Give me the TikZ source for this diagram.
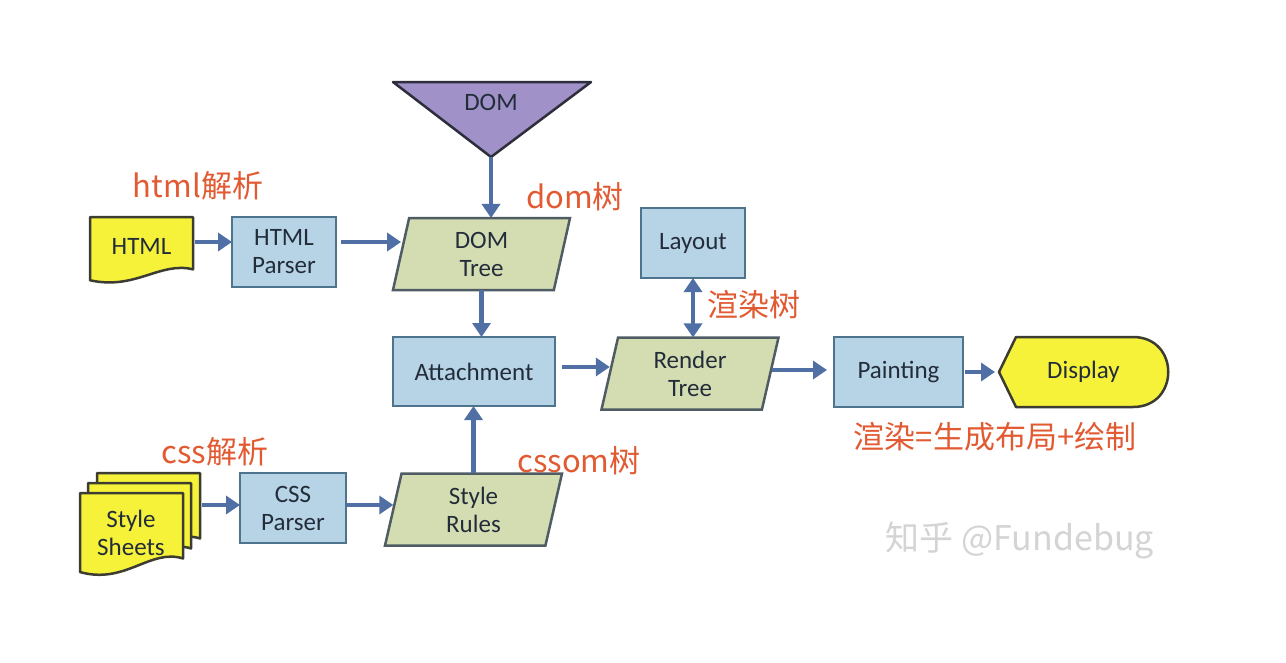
\documentclass[tikz,border=0pt]{standalone}
\usepackage{fontspec}
\setmainfont{Carlito}
\newfontfamily\cjk{Noto Sans CJK SC}
\usetikzlibrary{arrows.meta,shapes.geometric}
\definecolor{boxfill}{RGB}{183,211,230}
\definecolor{boxline}{RGB}{78,115,140}
\definecolor{parafill}{RGB}{212,221,178}
\definecolor{paraline}{RGB}{80,92,100}
\definecolor{yelfill}{RGB}{246,242,58}
\definecolor{yelline}{RGB}{60,60,50}
\definecolor{domfill}{RGB}{160,145,200}
\definecolor{domline}{RGB}{45,45,60}
\definecolor{flowc}{RGB}{80,112,165}
\definecolor{lblred}{RGB}{226,90,50}
\definecolor{txtc}{RGB}{35,45,58}
\definecolor{wmark}{RGB}{212,212,212}
% x y w h : document page with wavy bottom
\newcommand{\docpage}[4]{%
  \draw[yelshape] (#1,#2) -- ({#1+#3},#2) -- ({#1+#3},{#2+0.77*#4})
    .. controls ({#1+0.68*#3},{#2+0.65*#4}) and ({#1+0.44*#3},{#2+1.08*#4}) ..
    (#1,{#2+0.93*#4}) -- cycle;}
\begin{document}
\begin{tikzpicture}[x=1pt,y=-1pt,
  boxfont/.style={font=\fontsize{25}{28}\selectfont},
  plain/.style={text=txtc, boxfont, align=center, inner sep=0pt, outer sep=0pt},
  bluebox/.style={plain, rectangle, draw=boxline, fill=boxfill, line width=2.5pt},
  parabox/.style={plain, trapezium, trapezium left angle=70, trapezium right angle=110,
    trapezium stretches body, draw=paraline, fill=parafill, line width=2.5pt,
    minimum height=72pt, minimum width=177pt},
  yelshape/.style={draw=yelline, fill=yelfill, line width=2.5pt, line join=round},
  tip/.tip={Triangle[length=14pt,width=18pt]},
  flow/.style={draw=flowc, line width=4.5pt, -tip},
  flowboth/.style={draw=flowc, line width=4.5pt, tip-tip},
  lbl/.style={text=lblred, font=\cjk\fontsize{31}{31}\selectfont, inner sep=0pt},
  wm/.style={text=wmark, font=\cjk\fontsize{34}{34}\selectfont, inner sep=0pt}]
\useasboundingbox[fill=white] (0,0) rectangle (1286,662);

% rows for horizontal connectors
\coordinate (rowA) at (0,242);
\coordinate (rowB) at (0,367);
\coordinate (rowC) at (0,370);
\coordinate (rowD) at (0,505);

% DOM triangle
\draw[fill=domfill, draw=domline, line width=2.5pt, line join=round] (393,82) -- (591,82) -- (491,157) -- cycle;
\node[plain] (dom) at (491,102) {DOM};
\coordinate (domtip) at (491,157);

% HTML document
\docpage{90}{217}{103}{68}
\node[plain, minimum width=103pt, minimum height=50pt] (html) at (141.5,246) {HTML};

% Style sheets stack
\docpage{97}{473}{103}{85}
\docpage{88}{483}{103}{85}
\docpage{80}{493}{103}{85}
\node[minimum width=120pt, minimum height=105pt, inner sep=0pt, outer sep=0pt] (stack) at (140,525.5) {};
\node[plain] (sheets) at (131,533) {Style\\Sheets};

% boxes
\node[bluebox, minimum width=104pt, minimum height=70pt] (parser) at (284,252) {HTML\\Parser};
\node[parabox] (domtree) at (481.5,254) {DOM\\Tree};
\node[bluebox, minimum width=162pt, minimum height=69pt] (attach) at (474,371.5) {Attachment};
\node[bluebox, minimum width=104pt, minimum height=70pt] (layout) at (693,243) {Layout};
\node[parabox] (render) at (690,373.5) {Render\\Tree};
\node[bluebox, minimum width=129pt, minimum height=70pt] (paint) at (898.5,372) {Painting};
\node[bluebox, minimum width=106pt, minimum height=70pt] (css) at (293,508) {CSS\\Parser};
\node[parabox] (rules) at (473.5,509.5) {Style\\Rules};

% Display terminal
\draw[yelshape] (999,372) -- (1016,337) -- (1133,337) .. controls (1180,337) and (1180,407) .. (1133,407) -- (1016,407) -- cycle;
\node[plain, minimum width=169pt, minimum height=70pt] (display) at (1083.5,372) {Display};

% connectors
\draw[flow, shorten <=2pt] (html.east |- rowA) -- (parser.west |- rowA);
\draw[flow, shorten <=5pt] (parser.east |- rowA) -- (domtree.west |- rowA);
\draw[flow] (domtip) -- (domtip |- domtree.north);
\draw[flow] (domtree.south) -- (domtree.south |- attach.north);
\draw[flow, shorten <=7pt] (attach.east |- rowB) -- (render.west |- rowB);
\draw[flowboth] (layout.south) -- (layout.south |- render.north);
\draw[flow, shorten <=2pt, shorten >=7pt] (render.east |- rowC) -- (paint.west |- rowC);
\draw[flow, shorten <=2pt, shorten >=4pt] (paint.east) -- (display.west);
\draw[flow, shorten <=2pt] (stack.east |- rowD) -- (css.west |- rowD);
\draw[flow] (css.east |- rowD) -- (rules.west |- rowD);
\draw[flow] (rules.north) -- (rules.north |- attach.south);

% labels
\node[lbl] (lhtml) at (198,186) {html解析};
\node[lbl] (ldom) at (575,197) {dom树};
\node[lbl] (lrender) at (754,305) {渲染树};
\node[lbl] (lpaint) at (995,437) {渲染=生成布局+绘制};
\node[lbl] (lcss) at (215,452) {css解析};
\node[lbl] (lcssom) at (579,461) {cssom树};
\node[wm] (wmark) at (1020,540) {知乎 @Fundebug};
\end{tikzpicture}
\end{document}
